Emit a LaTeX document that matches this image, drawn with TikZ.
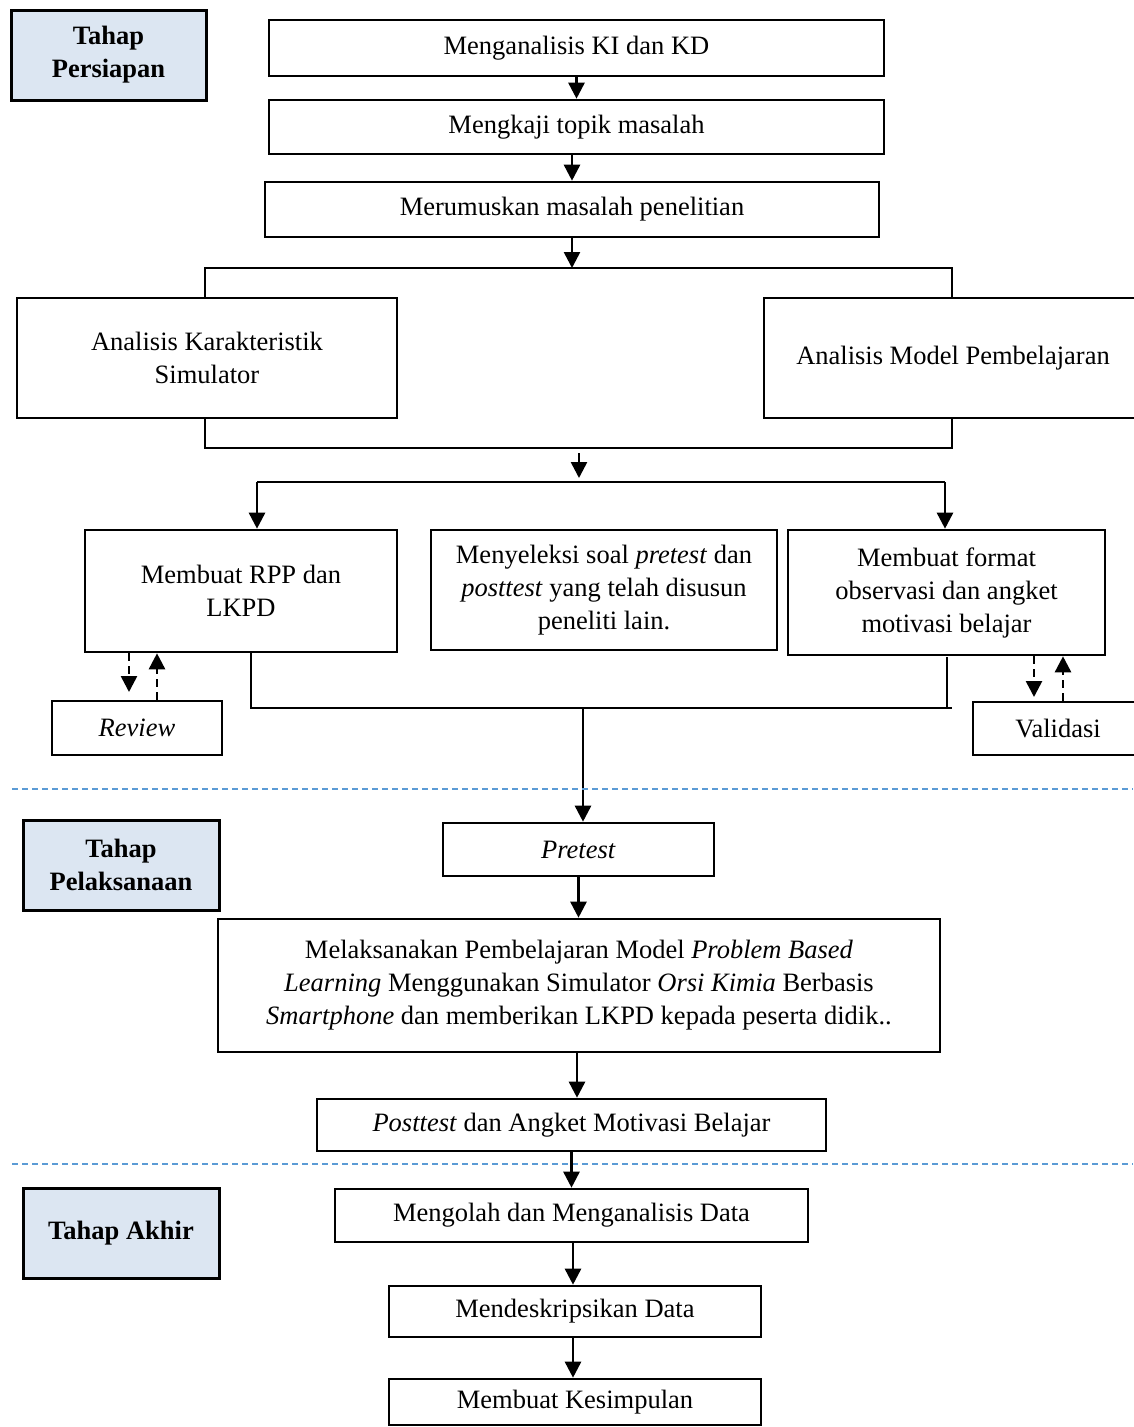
\documentclass[tikz,border=0pt]{standalone}
\usepackage{fontspec}
\setmainfont{Liberation Serif}
\usetikzlibrary{arrows.meta,calc}
\definecolor{stagefill}{HTML}{DCE6F2}
\definecolor{sepblue}{RGB}{91,155,213}
\begin{document}
\begin{tikzpicture}[x=1pt,y=-1pt,
  txt/.style={font=\fontsize{26.5}{33}\selectfont},
  box/.style={draw, line width=2.6pt, inner sep=0pt, align=center, txt},
  stage/.style={draw, line width=3pt, fill=stagefill, inner sep=0pt, align=center,
    font=\fontsize{26.5}{33}\selectfont\bfseries},
  conn/.style={line width=2.6pt},
  arr/.style={conn, -{Triangle[width=16pt,length=16pt]}},
  darr/.style={arr, dash pattern=on 8pt off 5pt},
  sep/.style={draw=sepblue, line width=1.5pt, dash pattern=on 6pt off 4pt}]
\useasboundingbox (0,0) rectangle (1133,1427);

% stage labels
\node[stage, minimum width=195pt, minimum height=90pt] (s1) at (108.5,55) {Tahap\\Persiapan};
\node[stage, minimum width=196pt, minimum height=90pt] (s2) at (121,865) {Tahap\\Pelaksanaan};
\node[stage, minimum width=196pt, minimum height=90pt] (s3) at (121,1233) {Tahap Akhir};

% preparation
\node[box, minimum width=615pt, minimum height=56pt] (b1) at (576.5,48) {Menganalisis KI dan KD};
\node[box, minimum width=615pt, minimum height=54pt] (b2) at (576.5,127) {Mengkaji topik masalah};
\node[box, minimum width=614pt, minimum height=55pt] (b3) at (572,209.5) {Merumuskan masalah penelitian};
\node[box, minimum width=380pt, minimum height=120pt] (b4) at (207,358) {Analisis Karakteristik\\Simulator};
\node[box, minimum width=378pt, minimum height=120pt] (b5) at (953,358) {Analisis Model Pembelajaran};
\node[box, minimum width=312pt, minimum height=122pt] (b6) at (241,591) {Membuat RPP dan\\LKPD};
\node[box, minimum width=346pt, minimum height=120pt] (b7) at (604,590) {Menyeleksi soal \textit{pretest} dan\\\textit{posttest} yang telah disusun\\peneliti lain.};
\node[box, minimum width=317pt, minimum height=125pt] (b8) at (946.5,592.5) {Membuat format\\observasi dan angket\\motivasi belajar};
\node[box, minimum width=170pt, minimum height=54pt] (rev) at (137,728) {\textit{Review}};
\node[box, minimum width=170pt, minimum height=53pt] (val) at (1058,728.5) {Validasi};

% implementation
\node[box, minimum width=271pt, minimum height=53pt] (pre) at (578.5,849.5) {\textit{Pretest}};
\node[box, minimum width=722pt, minimum height=133pt] (mel) at (579,985.5) {Melaksanakan Pembelajaran Model \textit{Problem Based}\\\textit{Learning} Menggunakan Simulator \textit{Orsi Kimia} Berbasis\\\textit{Smartphone} dan memberikan LKPD kepada peserta didik..};
\node[box, minimum width=509pt, minimum height=52pt] (post) at (571.5,1125) {\textit{Posttest} dan Angket Motivasi Belajar};

% final
\node[box, minimum width=473pt, minimum height=53pt] (olah) at (571.5,1215.5) {Mengolah dan Menganalisis Data};
\node[box, minimum width=372pt, minimum height=51pt] (desk) at (575,1311.5) {Mendeskripsikan Data};
\node[box, minimum width=372pt, minimum height=46pt] (kes) at (575,1402) {Membuat Kesimpulan};

% connectors top
\draw[arr] (b1.south) -- (b1.south |- b2.north);
\draw[arr] (b2.south -| b3.north) -- (b3.north);
\coordinate (br1) at (572,268);
\draw[arr] (b3.south) -- (br1);
\coordinate (brL) at (205,268);
\coordinate (brR) at (952,268);
\draw[conn] (brL |- b4.north) -- (brL) -- (brR) -- (brR |- b5.north);
\coordinate (mgL) at (205,448);
\coordinate (mgR) at (952,448);
\draw[conn] (mgL |- b4.south) -- (mgL) -- (mgR) -- (mgR |- b5.south);
\coordinate (a1s) at (579,453);
\coordinate (a1e) at (579,478);
\draw[arr] (a1s) -- (a1e);
\coordinate (c2L) at (257,482);
\coordinate (c2R) at (945,482);
\draw[conn] (c2L) -- (c2R);
\draw[arr] (c2L) -- (c2L |- b6.north);
\draw[arr] (c2R) -- (c2R |- b8.north);

% review / validation loops
\coordinate (rd) at (129,692);
\coordinate (ru) at (157,700);
\draw[darr] (rd |- b6.south) -- (rd);
\draw[darr] (ru |- rev.north) -- (ru |- b6.south);
\coordinate (vd) at (1034,697);
\coordinate (vu) at (1063,700);
\draw[darr] (vd |- b8.south) -- (vd);
\draw[darr] (vu |- val.north) -- (vu |- b8.south);

% merge to pretest
\coordinate (m2L) at (251,708);
\coordinate (m2R) at (947,708);
\coordinate (m2E) at (952,708);
\coordinate (m2T) at (947,657);
\draw[conn] (m2L |- b6.south) -- (m2L) -- (m2E);
\draw[conn] (m2T) -- (m2R);
\coordinate (m2C) at (583,708);
\draw[arr] (m2C) -- (m2C |- pre.north);

% separators
\coordinate (sa1) at (12,789);
\coordinate (sa2) at (1133,789);
\draw[sep] (sa1) -- (sa2);
\coordinate (sb1) at (12,1164);
\coordinate (sb2) at (1133,1164);
\draw[sep] (sb1) -- (sb2);

% lower connectors
\draw[arr] (pre.south) -- (pre.south |- mel.north);
\coordinate (mx) at (577,0);
\draw[arr] (mx |- mel.south) -- (mx |- post.north);
\draw[arr] (post.south) -- (post.south |- olah.north);
\coordinate (ox) at (573,0);
\draw[arr] (ox |- olah.south) -- (ox |- desk.north);
\draw[arr] (ox |- desk.south) -- (ox |- kes.north);
\end{tikzpicture}
\end{document}
